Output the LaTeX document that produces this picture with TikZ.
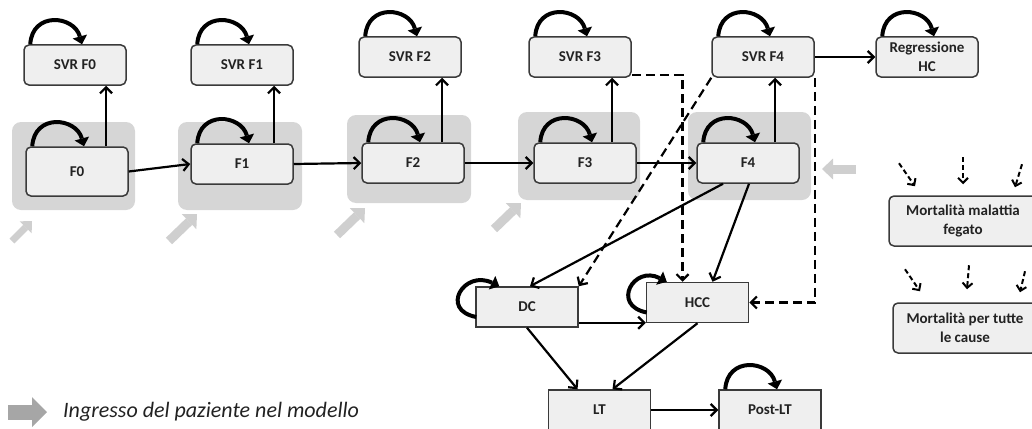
\documentclass[tikz,border=0pt]{standalone}
\usepackage{fontspec}
\setmainfont{Carlito}
\usetikzlibrary{calc,arrows.meta}
\definecolor{boxfill}{HTML}{EFEFEF}
\definecolor{boxline}{HTML}{3A3A3A}
\definecolor{zone}{HTML}{D6D6D6}
\definecolor{entry}{HTML}{CFCFCF}
\definecolor{legendgray}{HTML}{A6A6A6}
\definecolor{ink}{HTML}{222222}

\begin{document}
\begin{tikzpicture}[x=1pt,y=-1pt,
  state/.style={draw=boxline,fill=boxfill,line width=1.5pt,rounded corners=5pt,
    minimum width=102pt,minimum height=40pt,inner sep=2pt,text=ink,align=center,
    font=\bfseries\fontsize{15}{19}\selectfont},
  sqstate/.style={state,rounded corners=0pt},
  arr/.style={line width=2.2pt,-{Straight Barb[length=6pt,width=12pt]}},
  dasharr/.style={arr,dash pattern=on 9pt off 5pt},
  smalldash/.style={line width=2pt,dash pattern=on 5pt off 3pt,-{Straight Barb[length=5pt,width=10pt]}},
  selfloop/.style={line width=4pt,-{Triangle[length=8pt,width=15pt,line width=0pt]}},
  zonebox/.style={fill=zone,rounded corners=9pt},
  entryarr/.style={draw=entry,line width=9pt,-{Triangle[length=11pt,width=21pt,line width=0pt]}}]
\useasboundingbox (0,0) rectangle (1032,428);

% stages where patients enter
\fill[zonebox] (12,122) rectangle (135,210);
\fill[zonebox] (178,122) rectangle (302,210);
\fill[zonebox] (347,115) rectangle (471,203);
\fill[zonebox] (518,112) rectangle (640,200);
\fill[zonebox] (688,112) rectangle (811,200);
\draw[entryarr,line width=7pt,-{Triangle[length=9pt,width=17pt,line width=0pt]}] (12,241) -- (32,221);
\draw[entryarr] (169,241) -- (197,214);
\draw[entryarr] (337,235) -- (365,208);
\draw[entryarr] (494,229) -- (521,203);
\draw[entryarr] (856,169) -- (822,169);

% fibrosis and SVR states
\node[state,minimum height=49pt] (F0) at (77,171.5) {F0};
\node[state] (F1) at (242,164) {F1};
\node[state] (F2) at (413,163) {F2};
\node[state] (F3) at (585,163) {F3};
\node[state] (F4) at (748,163) {F4};
\node[state] (svrF0) at (75,65) {SVR F0};
\node[state] (svrF1) at (242,65) {SVR F1};
\node[state] (svrF2) at (410,57) {SVR F2};
\node[state] (svrF3) at (580,57) {SVR F3};
\node[state] (svrF4) at (763,57) {SVR F4};
\node[state] (reg) at (927,57) {Regressione\\HC};

% complications
\node[sqstate] (DC) at (527,307) {DC};
\node[sqstate] (HCC) at (697.5,302.5) {HCC};
\node[sqstate] (LT) at (599.5,410) {LT};
\node[sqstate] (postLT) at (770,410) {Post-LT};

% mortality
\node[state,minimum width=148pt,minimum height=50pt] (mortLiver) at (963,221) {Mortalità malattia\\fegato};
\node[state,minimum width=144pt,minimum height=50pt] (mortAll) at (965,328) {Mortalità per tutte\\le cause};

% legend
\draw[draw=legendgray,line width=15pt,-{Triangle[length=15pt,width=30pt,line width=0pt]}] (8,412) -- (47,412);
\node[inner sep=0pt,anchor=west,text=ink,font=\itshape\fontsize{22}{26}\selectfont] (legend) at (63,412) {Ingresso del paziente nel modello};

% transitions
\draw[arr] (F0.east) -- (F1.west);
\foreach \a/\b in {F1/F2,F2/F3,F3/F4}
  \draw[arr] (\a.east) -- (\b.west);
\foreach \n/\dx in {0/29,1/32,2/29,3/27,4/27}
  \draw[arr] ($(F\n.north)+(\dx,0)$) coordinate (up) -- (up |- svrF\n.south);
\draw[arr] (svrF4.east) -- (reg.west);

\foreach \n in {svrF0,svrF1,svrF2,svrF3,svrF4,reg,F0,F1,F2,F3,F4,postLT}
  \draw[selfloop] ($(\n.north west)+(7,0)$) .. controls +(2,-33) and +(-8,-29) .. ($(\n.north)+(7,0)$);
\draw[selfloop] ($(DC.west)+(1,10)$) .. controls +(-37,-7) and +(-35,-17) .. ($(DC.north west)+(24,0)$);
\draw[selfloop] ($(HCC.west)+(1,10)$) .. controls +(-36,-7) and +(-33,-17) .. ($(HCC.north west)+(21,0)$);

\draw[arr] ($(F4.south)+(-25,0)$) -- ($(DC.north)+(3,0)$);
\draw[arr] ($(F4.south)+(1,0)$) -- ($(HCC.north)+(15,0)$);
\draw[arr] ($(DC.south east)+(0,-5)$) coordinate (dh) -- (dh -| HCC.west);
\draw[arr] (DC.south) -- ($(LT.north)+(-22,0)$);
\draw[arr] (HCC.south) -- ($(LT.north)+(13,0)$);
\draw[arr] (LT.east) -- (postLT.west);

\draw[dasharr] ($(svrF3.south east)+(0,-3)$) -| ($(HCC.north)+(-15,0)$);
\draw[dasharr] (svrF4.south west) -- (DC.north east);
\draw[dasharr] (svrF4.south east) |- (HCC.east);

\foreach \m/\ex/\ey/\sx/\sy in {mortLiver/-48/-9/-16/-23,mortLiver/0/-11/0/-27,mortLiver/52/-8/7/-23,
    mortAll/-45/-11/-15/-22,mortAll/2/-13/2/-24,mortAll/55/-10/5/-21}
  \draw[smalldash] ($(\m.north)+(\ex,\ey)+(\sx,\sy)$) -- ($(\m.north)+(\ex,\ey)$);
\end{tikzpicture}
\end{document}
